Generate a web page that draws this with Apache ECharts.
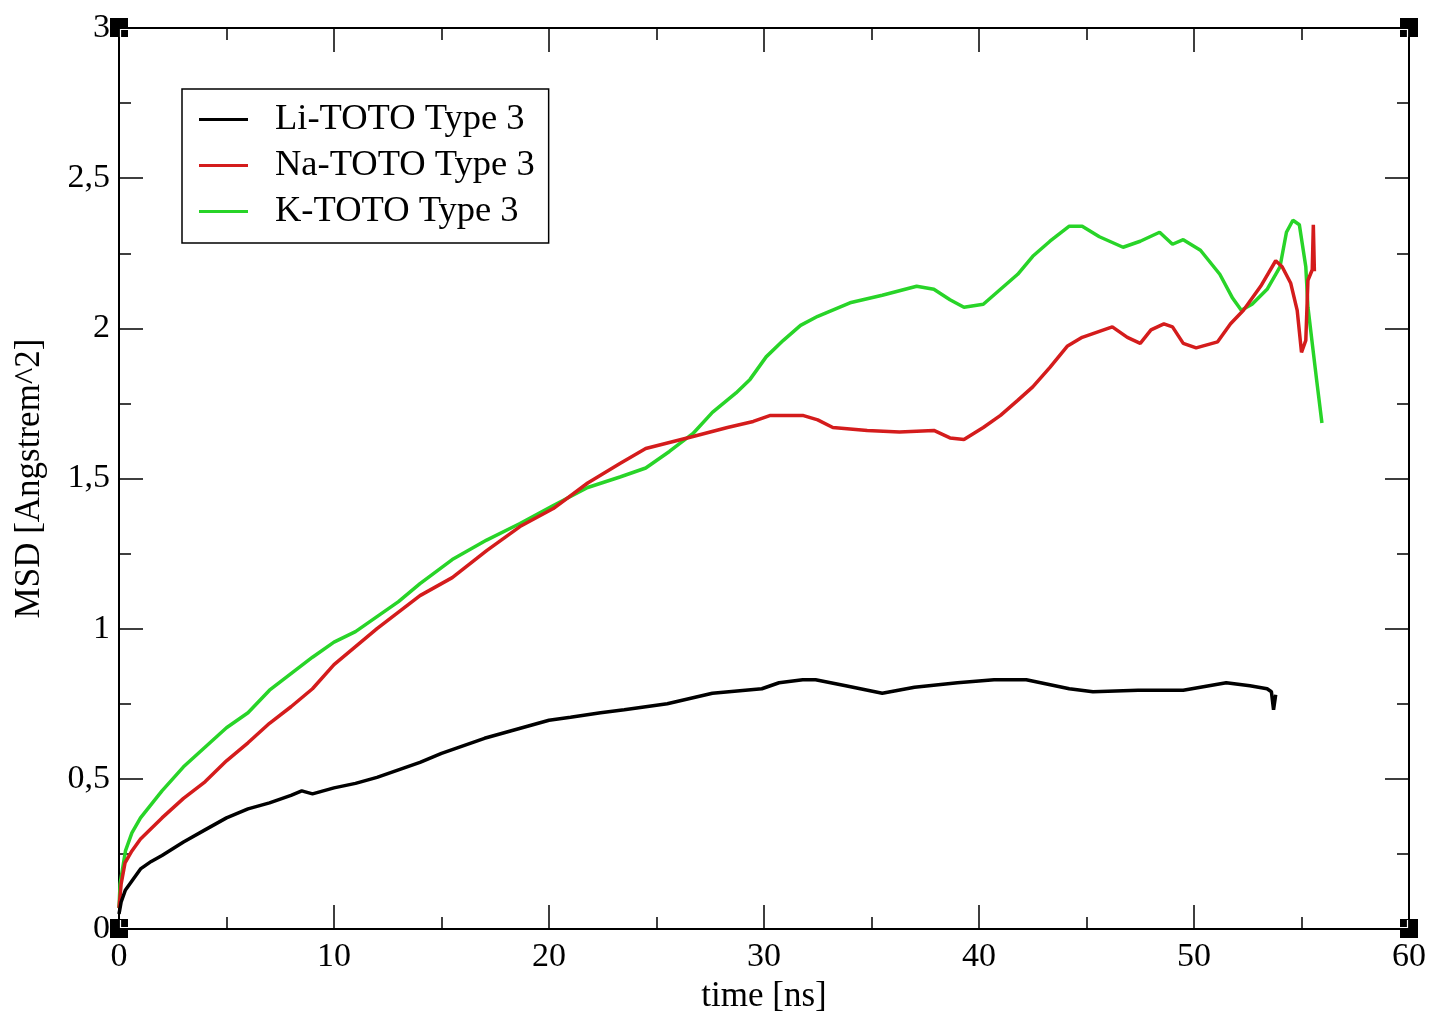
<!DOCTYPE html>
<html>
<head>
<meta charset="utf-8">
<script src="https://cdn.jsdelivr.net/npm/echarts@6/dist/echarts.min.js"></script>
<style>
  html, body { margin: 0; padding: 0; background: #fff; }
  #main { width: 1430px; height: 1011px; }
</style>
</head>
<body>
<div id="main"></div>
<script>
// MSD curves (time in ns, MSD in Angstrem^2)
var liTime = [0, 0.1, 0.3, 0.6, 1, 1.5, 2, 3, 4, 5, 6, 7, 8, 8.5, 9, 10, 11, 12, 13, 14, 15, 16, 17, 18, 19, 20, 21, 22.4, 23.5, 25.5, 27.6, 29.9, 30.7, 31.8, 32.4, 33.8, 35.5, 37, 39, 40.7, 42.2, 44.2, 45.3, 47.4, 49.5, 51.5, 52.6, 53.4, 53.6, 53.7, 53.8];
var liMsd = [0.05, 0.09, 0.13, 0.16, 0.2, 0.225, 0.245, 0.29, 0.33, 0.37, 0.40, 0.42, 0.445, 0.46, 0.45, 0.47, 0.485, 0.505, 0.53, 0.555, 0.585, 0.61, 0.635, 0.655, 0.675, 0.695, 0.705, 0.72, 0.73, 0.75, 0.785, 0.80, 0.82, 0.83, 0.83, 0.81, 0.785, 0.805, 0.82, 0.83, 0.83, 0.80, 0.79, 0.795, 0.795, 0.82, 0.81, 0.80, 0.79, 0.73, 0.78];

var naTime = [0, 0.1, 0.28, 0.6, 1, 2, 3, 4, 5, 6, 7, 8, 9, 10, 11, 12, 13, 14, 15.5, 17.1, 18.65, 20.2, 21.8, 23.3, 24.5, 25.6, 26.7, 28.3, 29.5, 30.3, 31.8, 32.5, 33.2, 34.8, 36.3, 37.9, 38.65, 39.3, 40.2, 41, 41.8, 42.5, 43.3, 44.1, 44.8, 45.6, 46.2, 46.9, 47.5, 48, 48.6, 49, 49.5, 50.1, 51.1, 51.7, 52.3, 53.1, 53.8, 54.1, 54.5, 54.8, 55.0, 55.2, 55.3, 55.5, 55.55, 55.6];
var naMsd = [0.07, 0.15, 0.22, 0.26, 0.30, 0.37, 0.435, 0.49, 0.56, 0.62, 0.685, 0.74, 0.80, 0.88, 0.94, 1.0, 1.055, 1.11, 1.17, 1.26, 1.34, 1.40, 1.485, 1.55, 1.60, 1.62, 1.64, 1.67, 1.69, 1.71, 1.71, 1.695, 1.67, 1.66, 1.655, 1.66, 1.635, 1.63, 1.67, 1.71, 1.76, 1.805, 1.87, 1.94, 1.97, 1.99, 2.005, 1.97, 1.95, 1.995, 2.015, 2.005, 1.95, 1.935, 1.955, 2.015, 2.06, 2.14, 2.225, 2.205, 2.15, 2.06, 1.92, 1.96, 2.16, 2.195, 2.345, 2.19];

var kTime = [0, 0.05, 0.3, 0.6, 1, 2, 3, 4, 5, 6, 7, 8, 9, 10, 11, 12, 13, 14, 15.5, 17.1, 18.65, 20.2, 21.8, 23.3, 24.5, 25.6, 26.7, 27.6, 28.7, 29.35, 30.1, 30.9, 31.7, 32.5, 34, 35.5, 37.1, 37.9, 38.65, 39.3, 40.2, 41, 41.8, 42.5, 43.3, 44.2, 44.8, 45.6, 46.7, 47.5, 48.4, 49, 49.5, 50.3, 51.2, 51.8, 52.2, 52.7, 53.4, 54, 54.3, 54.6, 54.9, 55.2, 55.3, 55.5, 55.7, 55.95];
var kMsd = [0.07, 0.15, 0.26, 0.32, 0.37, 0.46, 0.54, 0.605, 0.67, 0.72, 0.795, 0.85, 0.905, 0.955, 0.99, 1.04, 1.09, 1.15, 1.23, 1.295, 1.35, 1.41, 1.47, 1.505, 1.535, 1.59, 1.65, 1.72, 1.785, 1.83, 1.905, 1.96, 2.01, 2.04, 2.085, 2.11, 2.14, 2.13, 2.095, 2.07, 2.08, 2.13, 2.18, 2.24, 2.29, 2.34, 2.34, 2.305, 2.27, 2.29, 2.32, 2.28, 2.295, 2.26, 2.18, 2.10, 2.06, 2.08, 2.13, 2.205, 2.32, 2.36, 2.345, 2.205, 2.07, 1.95, 1.83, 1.685];

var seriesNames = ['Li-TOTO Type 3', 'Na-TOTO Type 3', 'K-TOTO Type 3'];
var seriesColors = ['#000000', '#d41c1c', '#28d428'];

function pairs(t, v) {
    return t.map(function (x, i) { return [x, v[i]]; });
}

var font = 'Liberation Serif';
var tickStyle = { color: '#000', width: 1.5 };

function frameAxis(extra) {
    var base = {
        axisLine: { show: true, onZero: false, lineStyle: { color: '#000', width: 2 } },
        axisTick: { show: true, inside: true, length: 24, lineStyle: tickStyle },
        minorTick: { show: true, splitNumber: 2, length: 12, lineStyle: tickStyle },
        splitLine: { show: false },
        axisLabel: { show: false }
    };
    return Object.assign(base, extra);
}

var myChart = echarts.init(document.getElementById('main'));

var option = {
    backgroundColor: '#fff',
    animation: false,
    grid: { left: 119, right: 21, top: 28, bottom: 82, outerBoundsMode: 'none', containLabel: false },
    legend: {
        left: 182,
        top: 89,
        orient: 'vertical',
        icon: 'rect',
        itemWidth: 49,
        itemHeight: 3,
        itemGap: 9,
        padding: [12, 14, 13, 17],
        borderColor: '#000',
        borderWidth: 1.5,
        borderRadius: 0,
        textStyle: { fontFamily: font, fontSize: 36.5, color: '#000', padding: [0, 0, 0, 22] },
        data: seriesNames
    },
    xAxis: [
        frameAxis({
            type: 'value', position: 'bottom', min: 0, max: 60, interval: 10,
            name: 'time [ns]', nameLocation: 'middle', nameGap: 48,
            nameTextStyle: { fontFamily: font, fontSize: 35, color: '#000' },
            axisLabel: { show: true, margin: 11, fontFamily: font, fontSize: 34, color: '#000' }
        }),
        frameAxis({ type: 'value', position: 'top', min: 0, max: 60, interval: 10 })
    ],
    yAxis: [
        frameAxis({
            type: 'value', position: 'left', min: 0, max: 3, interval: 0.5,
            name: 'MSD [Angstrem^2]', nameLocation: 'middle', nameGap: 72,
            nameTextStyle: { fontFamily: font, fontSize: 35, color: '#000' },
            axisLabel: {
                show: true, margin: 9, fontFamily: font, fontSize: 34, color: '#000',
                formatter: function (v) { return String(v).replace('.', ','); }
            }
        }),
        frameAxis({ type: 'value', position: 'right', min: 0, max: 3, interval: 0.5 })
    ],
    series: [
        { name: seriesNames[0], data: pairs(liTime, liMsd) },
        { name: seriesNames[1], data: pairs(naTime, naMsd) },
        { name: seriesNames[2], data: pairs(kTime, kMsd) }
    ].map(function (s, i) {
        return Object.assign(s, {
            type: 'line',
            showSymbol: false,
            color: seriesColors[i],
            lineStyle: { color: seriesColors[i], width: 3.5 },
            z: 3 - i
        });
    })
};
myChart.setOption(option);

// black corner marks at the frame corners (xmgrace style)
var corners = [[0, 0], [60, 0], [0, 3], [60, 3]];
var marks = [];
corners.forEach(function (c) {
    var p = myChart.convertToPixel({ xAxisIndex: 0, yAxisIndex: 0 }, c);
    marks.push({
        type: 'rect', shape: { x: p[0] - 9, y: p[1] - 10, width: 18, height: 19 },
        style: { fill: '#000' }, z: 100
    });
    var sx = c[0] === 0 ? 1 : -1;
    var sy = c[1] === 0 ? -1 : 1;
    marks.push({
        type: 'polyline',
        shape: { points: [[p[0] + sx * 1.5, p[1] + sy * 9], [p[0] + sx * 1.5, p[1] + sy * 1.5], [p[0] + sx * 9, p[1] + sy * 1.5]] },
        style: { stroke: '#fff', lineWidth: 1.2, fill: null }, z: 101
    });
});
myChart.setOption({ graphic: marks });
</script>
</body>
</html>
